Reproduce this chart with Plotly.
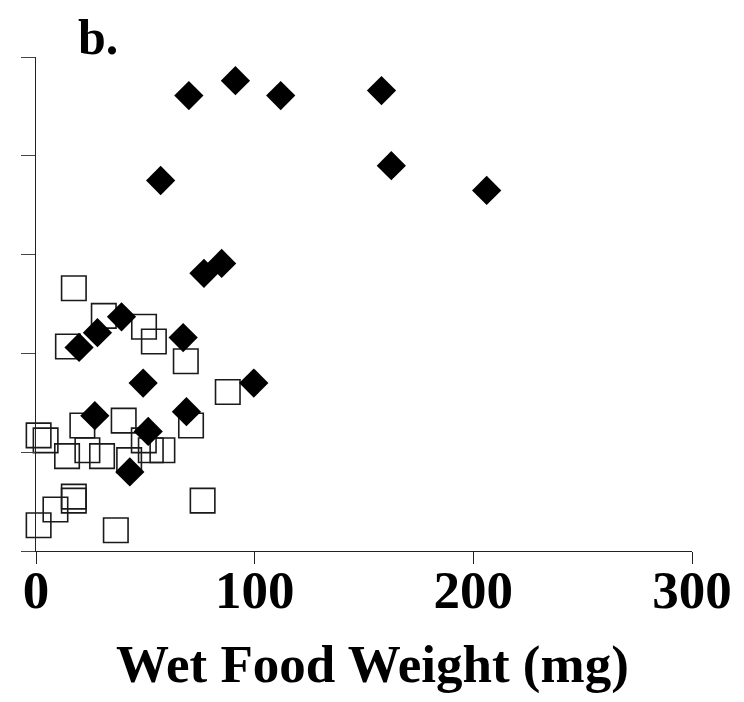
import plotly.graph_objects as go

# Filled diamonds series
diamond_x = [91.2, 69.9, 111.9, 158.0, 57.0, 162.5, 206.1, 76.8, 84.9, 39.1, 28.1, 19.7,
             67.3, 49.0, 99.6, 26.9, 68.8, 51.3, 42.9]
diamond_y = [4.76, 4.61, 4.61, 4.66, 3.75, 3.90, 3.65, 2.81, 2.91, 2.37, 2.21, 2.06,
             2.16, 1.70, 1.70, 1.37, 1.41, 1.21, 0.80]

# Open squares series
square_x = [17.3, 31.0, 14.6, 49.4, 53.9, 68.5, 87.7, 1.2, 4.4, 21.2, 40.1, 70.9,
            14.2, 23.5, 30.2, 42.6, 49.3, 52.5, 57.8, 17.3, 17.3, 8.9, 1.2, 36.5, 76.2]
square_y = [2.66, 2.38, 2.07, 2.27, 2.12, 1.92, 1.61, 1.17, 1.12, 1.27, 1.32, 1.27,
            0.96, 1.02, 0.96, 0.92, 1.12, 1.02, 1.02, 0.55, 0.51, 0.42, 0.26, 0.21, 0.51]

x_ticks = [0, 100, 200, 300]
y_ticks = [0, 1, 2, 3, 4, 5]

FONT = "Liberation Serif, Times New Roman, serif"

fig = go.Figure()
fig.add_trace(go.Scatter(
    x=square_x, y=square_y, mode="markers", cliponaxis=False,
    marker=dict(symbol="square-open", size=24.5, color="#1a1a1a", line=dict(width=1.6, color="#1a1a1a")),
    showlegend=False))
fig.add_trace(go.Scatter(
    x=diamond_x, y=diamond_y, mode="markers", cliponaxis=False,
    marker=dict(symbol="diamond", size=22.5, color="black", line=dict(width=0)),
    showlegend=False))

# the page body has an 8px margin, so the figure is sized/offset to compensate
fig.update_layout(
    width=736, height=694,
    paper_bgcolor="white", plot_bgcolor="white",
    margin=dict(l=28, r=52, t=49, b=151, autoexpand=False),
    font=dict(family=FONT, color="black"),
    xaxis=dict(range=[0, 300], tickvals=x_ticks, ticktext=[str(v) for v in x_ticks],
               automargin=False,
               showgrid=False, zeroline=False, showline=True, linecolor="#222", linewidth=1.2,
               ticks="outside", ticklen=12, tickwidth=1, tickcolor="#222",
               ticklabelstandoff=-20,
               tickfont=dict(family=FONT, size=53, weight="bold", color="black")),
    yaxis=dict(range=[0, 5], tickvals=y_ticks, showticklabels=False, automargin=False,
               showgrid=False, zeroline=False, showline=True, linecolor="#222", linewidth=1.2,
               ticks="outside", ticklen=14, tickwidth=1, tickcolor="#444"),
    annotations=[
        dict(text="<b>Wet Food Weight (mg)</b>", xref="paper", yref="paper",
             x=(372.5 - 36) / 656, y=0, yshift=-82, xanchor="center", yanchor="top",
             showarrow=False, font=dict(family=FONT, size=53, color="black")),
        dict(text="<b>b.</b>", xref="paper", yref="paper",
             x=(77 - 36) / 656, y=1, yshift=49, xanchor="left", yanchor="top",
             borderpad=0,
             showarrow=False, font=dict(family=FONT, size=50, color="black")),
    ],
)

fig.write_html("out.html")
